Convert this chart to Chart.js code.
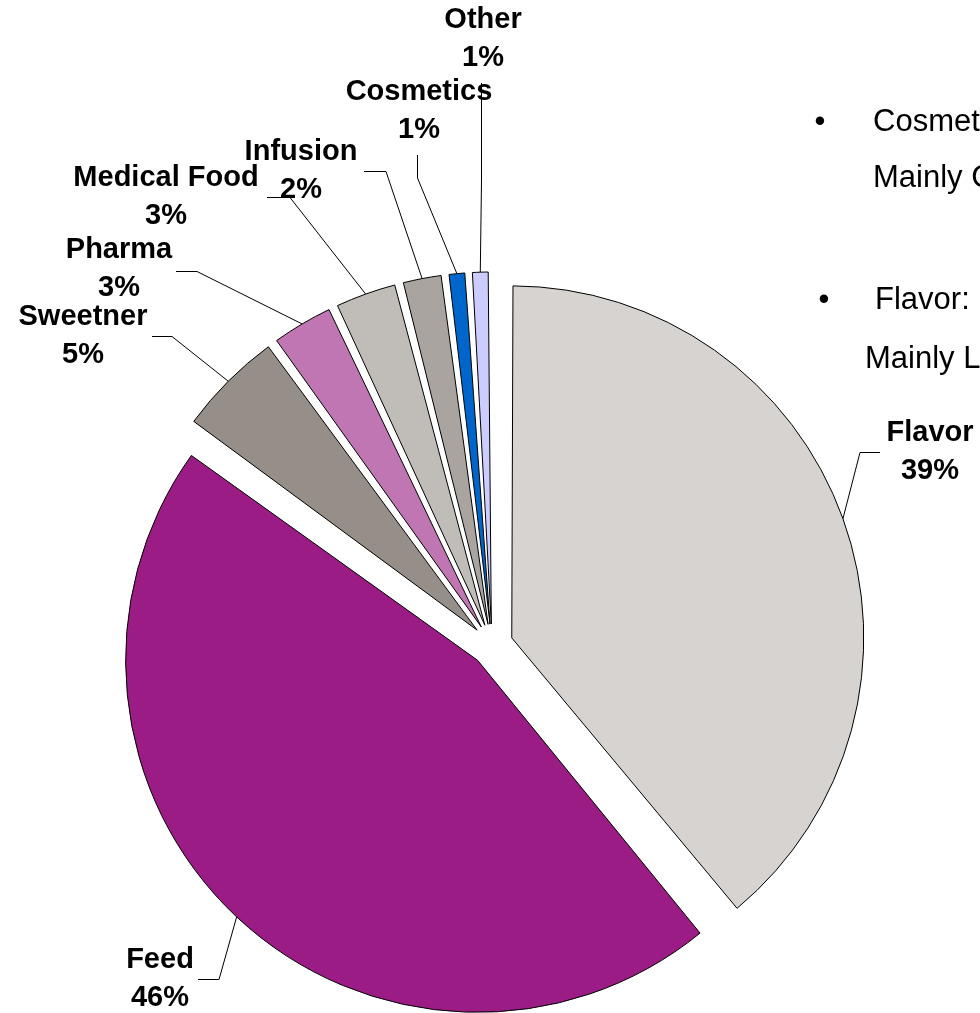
<!DOCTYPE html>
<html>
<head>
<meta charset="utf-8">
<title>Application split</title>
<script src="https://cdn.jsdelivr.net/npm/chart.js@4.4.1/dist/chart.umd.min.js"></script>
<style>
    html, body { margin: 0; padding: 0; background: #fff; }
    #wrap { position: relative; width: 980px; height: 1013px; overflow: hidden; }
</style>
</head>
<body>
<div id="wrap"><canvas id="pie" width="980" height="1013"></canvas></div>
<script>
const categories = ['Flavor', 'Feed', 'Sweetner', 'Pharma', 'Medical Food', 'Infusion', 'Cosmetics', 'Other'];
const shares = [39, 46, 5, 3, 3, 2, 1, 1];
const sliceColors = ['#d6d3d0', '#9a1c84', '#968f89', '#c176b4', '#c0bdb8', '#a9a49f', '#0066cc', '#ccccff'];
const notes = [
    ['Cosmetics:', 'Mainly C'],
    ['Flavor:', 'Mainly L'],
];

const RADIUS = 352;
const EXPLODE = 21; // px every slice is pulled away from the centre

// data label placement: text centre, leader elbow, leader end
const labelLayout = [
    { x: 930, y: 433, elbow: [860, 452.5], end: [880, 452.5] },
    { x: 160, y: 960, elbow: [219, 979.5], end: [198, 979.5] },
    { x: 83,  y: 317, elbow: [172, 336.5], end: [152, 336.5] },
    { x: 119, y: 250, elbow: [197, 271.5], end: [176, 271.5] },
    { x: 166, y: 178, elbow: [290, 197.5], end: [267, 197.5] },
    { x: 301, y: 152, elbow: [386, 171.5], end: [364, 171.5] },
    { x: 419, y: 92,  elbow: [417.5, 178], end: [417.5, 155] },
    { x: 483, y: 20,  elbow: [481.5, 180], end: [481.5, 83] },
];
const noteLayout = [
    { bullet: [820, 122], head: [873, 122], body: [873, 178] },
    { bullet: [824, 300], head: [875, 300], body: [865, 359] },
];

// chart.js grows the radius of offset slices, pull them back so all slices match
const evenRadius = {
    id: 'evenRadius',
    afterDatasetUpdate(chart, args) {
        args.meta.data.forEach(arc => {
            const fix = 1 - Math.sin(Math.min(Math.PI, arc.circumference));
            arc.outerRadius = RADIUS - EXPLODE * fix;
        });
    }
};

const pieLabels = {
    id: 'pieLabels',
    afterDatasetsDraw(chart) {
        const ctx = chart.ctx;
        const arcs = chart.getDatasetMeta(0).data;
        ctx.save();
        ctx.fillStyle = '#000';
        ctx.strokeStyle = '#000';
        ctx.lineWidth = 1;

        ctx.font = 'bold 29px "Liberation Sans", Arial, sans-serif';
        ctx.textAlign = 'center';
        ctx.textBaseline = 'middle';
        arcs.forEach((arc, i) => {
            const lay = labelLayout[i];
            ctx.fillText(categories[i], lay.x, lay.y);
            ctx.fillText(shares[i] + '%', lay.x, lay.y + 38);
        });

        // leader lines start on the outer edge at the slice's middle angle
        arcs.forEach((arc, i) => {
            const lay = labelLayout[i];
            const mid = (arc.startAngle + arc.endAngle) / 2;
            const r = RADIUS + EXPLODE;
            ctx.beginPath();
            ctx.moveTo(arc.x + Math.cos(mid) * r, arc.y + Math.sin(mid) * r);
            ctx.lineTo(lay.elbow[0], lay.elbow[1]);
            ctx.lineTo(lay.end[0], lay.end[1]);
            ctx.stroke();
        });

        // bullet notes on the right (run off the slide edge)
        ctx.font = '31px "Liberation Sans", Arial, sans-serif';
        notes.forEach((note, i) => {
            const lay = noteLayout[i];
            ctx.textAlign = 'center';
            ctx.fillText('\u2022', lay.bullet[0], lay.bullet[1]);
            ctx.textAlign = 'left';
            ctx.fillText(note[0], lay.head[0], lay.head[1]);
            ctx.fillText(note[1], lay.body[0], lay.body[1]);
        });
        ctx.restore();
    }
};

new Chart(document.getElementById('pie'), {
    type: 'pie',
    data: {
        labels: categories,
        datasets: [{
            data: shares,
            backgroundColor: sliceColors,
            borderColor: '#000',
            borderWidth: 1,
            offset: EXPLODE * 4,
            clip: false,
        }]
    },
    options: {
        responsive: false,
        animation: false,
        radius: RADIUS,
        layout: { padding: { left: 100, right: 96, top: 300, bottom: 23 } },
        plugins: {
            legend: { display: false },
            tooltip: { enabled: false },
        },
        events: [],
    },
    plugins: [evenRadius, pieLabels],
});
</script>
</body>
</html>
